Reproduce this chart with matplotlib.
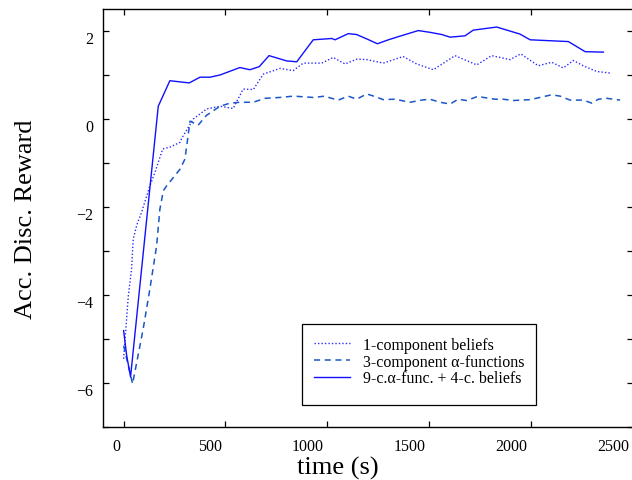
import matplotlib
matplotlib.use("Agg")
import matplotlib.pyplot as plt
import matplotlib.transforms as mtransforms
from matplotlib.patches import Rectangle

plt.rcParams['font.family'] = ['Liberation Serif', 'DejaVu Serif']

# 1-component beliefs (dotted)
t_dot = [0, 23, 39, 47, 64, 88, 129, 154, 192, 227, 277, 285, 342, 408, 473, 538,
         587, 637, 686, 768, 833, 882, 973, 1029, 1087, 1144, 1194, 1275, 1373, 1439,
         1521, 1627, 1734, 1807, 1897, 1950, 2036, 2102, 2159, 2208, 2257, 2323, 2397]
v_dot = [-5.45, -4.02, -3.41, -2.73, -2.42, -2.12, -1.52, -1.21, -0.68, -0.64, -0.53, -0.44,
         0.0, 0.23, 0.29, 0.24, 0.68, 0.67, 1.02, 1.15, 1.10, 1.27, 1.27, 1.40, 1.25, 1.36,
         1.35, 1.27, 1.42, 1.25, 1.12, 1.44, 1.23, 1.44, 1.35, 1.48, 1.21, 1.29, 1.16, 1.33,
         1.21, 1.08, 1.04]

# 3-component alpha-functions (dashed)
t_dash = [0, 44, 96, 129, 162, 178, 195, 211, 277, 301, 326, 366, 406, 473, 522, 571,
          636, 694, 768, 833, 931, 989, 1013, 1054, 1103, 1144, 1194, 1234, 1275, 1333,
          1406, 1464, 1504, 1554, 1603, 1643, 1685, 1742, 1766, 1824, 1864, 1914, 1996,
          2102, 2143, 2192, 2257, 2299, 2331, 2372, 2438]
v_dash = [-5.15, -6.02, -4.77, -3.86, -2.88, -2.05, -1.63, -1.52, -1.14, -0.91, -0.05, -0.14,
          0.08, 0.29, 0.36, 0.38, 0.38, 0.47, 0.49, 0.52, 0.49, 0.52, 0.48, 0.43, 0.52, 0.45,
          0.57, 0.51, 0.44, 0.45, 0.38, 0.43, 0.45, 0.38, 0.34, 0.45, 0.42, 0.52, 0.49, 0.45,
          0.45, 0.42, 0.44, 0.55, 0.52, 0.43, 0.43, 0.36, 0.45, 0.47, 0.43]

# 9-c. alpha-func. + 4-c. beliefs (solid)
t_sol = [0, 15, 34, 170, 227, 322, 375, 424, 473, 571, 620, 666, 714, 801, 850, 931,
         1022, 1038, 1103, 1144, 1194, 1246, 1300, 1341, 1447, 1504, 1562, 1603, 1676,
         1717, 1832, 1946, 1996, 2184, 2266, 2356]
v_sol = [-4.81, -5.38, -5.86, 0.29, 0.87, 0.82, 0.95, 0.95, 1.0, 1.17, 1.12, 1.19, 1.44,
         1.32, 1.30, 1.80, 1.83, 1.80, 1.94, 1.92, 1.82, 1.71, 1.80, 1.86, 2.01, 1.97, 1.92,
         1.86, 1.89, 2.02, 2.09, 1.93, 1.80, 1.76, 1.53, 1.52]

labels = ['1-component beliefs', '3-component α-functions', '9-c.α-func. + 4-c. beliefs']
x_ticks = [0, 500, 1000, 1500, 2000, 2500]
y_ticks = [-7, -6, -5, -4, -3, -2, -1, 0, 1, 2]
y_ticklabels = ['', '−6', '', '−4', '', '−2', '', '0', '', '2']

fig = plt.figure(figsize=(6.32, 4.81), dpi=100)
ax = fig.add_axes([0.1634, 0.1102, 0.8378, 0.869])

ax.plot(t_dot, v_dot, color='#2b2bff', linestyle=(0, (1, 1.5)), linewidth=1.0, label=labels[0])
ax.plot(t_dash, v_dash, color='#1a56c8', linestyle=(0, (4, 3)), linewidth=1.1, label=labels[1])
ax.plot(t_sol, v_sol, color='#1010ff', linestyle='-', linewidth=1.0, label=labels[2])

ax.set_xlim(-100, 2500)
ax.set_ylim(-7, 2.5)
ax.set_xticks(x_ticks)
ax.set_yticks(y_ticks)
ax.set_yticklabels(y_ticklabels)

ax.tick_params(direction='in', length=4.5, width=0.9, top=True, right=True,
               labelsize=11.5, colors='black')
ax.tick_params(axis='x', pad=8)
ax.tick_params(axis='y', pad=7)
for sp in ax.spines.values():
    sp.set_linewidth(1.0)

# tick labels in the original sit a bit left / below their ticks
for lab in ax.get_xticklabels():
    lab.set_ha('right')
    lab.set_transform(lab.get_transform() +
                      mtransforms.ScaledTranslation(-0.035, 0, fig.dpi_scale_trans))
for lab in ax.get_yticklabels():
    lab.set_transform(lab.get_transform() +
                      mtransforms.ScaledTranslation(0, -0.06, fig.dpi_scale_trans))

ax.set_xlabel('time (s)', fontsize=19)
ax.xaxis.set_label_coords(0.443, -0.069)
ax.set_ylabel('Acc. Disc. Reward', fontsize=19)
ax.yaxis.set_label_coords(-0.126, 0.5)

# legend box (drawn separately: the original frame has extra room at the bottom)
ax.add_patch(Rectangle((0.3747, 0.0533), 0.4425, 0.193, transform=ax.transAxes,
                       facecolor='white', edgecolor='black', linewidth=0.9, zorder=4))
leg = ax.legend(loc='upper left', bbox_to_anchor=(0.3747, 0.2445), borderaxespad=0,
                fontsize=11.5, labelspacing=0.05, handlelength=2.3, handletextpad=0.8,
                borderpad=0.75, frameon=False)
leg.set_zorder(5)

fig.savefig('out.png', dpi=100)
